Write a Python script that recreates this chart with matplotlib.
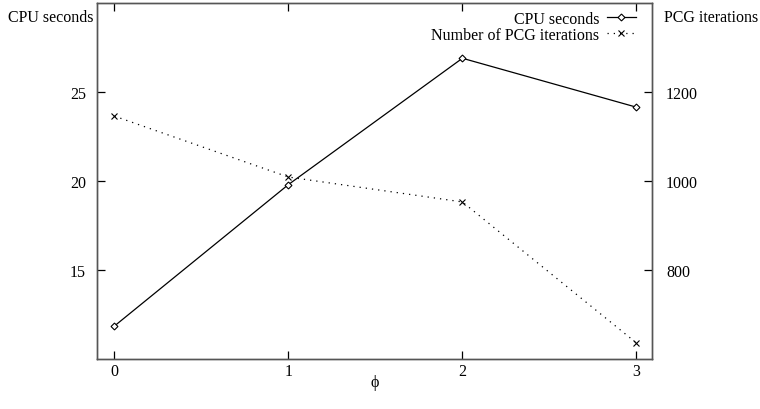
import matplotlib
matplotlib.use("Agg")
import matplotlib.pyplot as plt

phi = [0, 1, 2, 3]
cpu_seconds = [11.85, 19.8, 26.9, 24.15]
pcg_iterations = [1146, 1009, 953, 636]
x_ticks = [0, 1, 2, 3]
left_ticks = [15, 20, 25]
right_ticks = [800, 1000, 1200]

plt.rcParams["font.family"] = ["Liberation Serif", "DejaVu Serif"]
plt.rcParams["font.size"] = 11.5

fig = plt.figure(figsize=(7.6, 4.1), dpi=100)
ax = fig.add_axes([0.1276, 0.122, 0.7304, 0.868])
ax2 = ax.twinx()

l1, = ax.plot(phi, cpu_seconds, color="black", lw=0.9, marker="D", ms=3.5,
              mfc="white", mec="black", mew=0.8, label="CPU seconds")
l2, = ax2.plot(phi, pcg_iterations, color="black", lw=0.9, ls=(0, (1, 4)),
               marker="x", ms=5, mew=0.8, label="Number of PCG iterations")

ax.set_xlim(-0.1, 3.09)
ax.set_ylim(10, 30)
ax2.set_ylim(600, 1400)
ax.set_xticks(x_ticks)
ax.set_yticks(left_ticks)
ax2.set_yticks(right_ticks)

ax.tick_params(axis="x", direction="in", top=True, length=6, width=0.9, pad=3)
ax.tick_params(axis="y", direction="in", length=6, width=0.9, pad=8)
ax2.tick_params(axis="y", direction="in", length=6, width=0.9, pad=10)

for a in (ax, ax2):
    for s in a.spines.values():
        s.set_color("#555555")
        s.set_linewidth(1.0)

fig.text(0.010, 0.956, "CPU seconds", ha="left", va="center")
fig.text(0.874, 0.956, "PCG iterations", ha="left", va="center")
ax.set_xlabel("\u03d5", labelpad=-4)

ax.legend(handles=[l1, l2], loc="upper right", frameon=False, markerfirst=False,
          handlelength=1.8, handletextpad=0.5, labelspacing=0.0,
          borderaxespad=0.1, bbox_to_anchor=(0.985, 1.0))

fig.savefig("out.png", dpi=100)
